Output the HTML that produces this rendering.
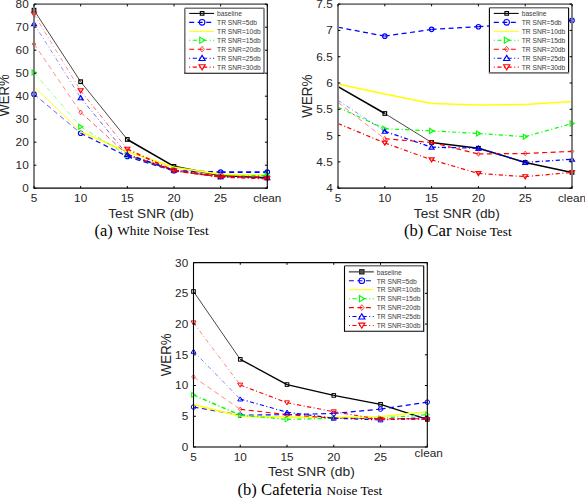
<!DOCTYPE html>
<html><head><meta charset="utf-8"><style>
html,body{margin:0;padding:0;background:#fff;overflow:hidden;}
svg{display:block;}
.tk{font-family:"Liberation Sans",sans-serif;font-size:11.0px;fill:#262626;}
.al{font-family:"Liberation Sans",sans-serif;font-size:13.2px;fill:#262626;}
.lg{font-family:"Liberation Sans",sans-serif;font-size:7.7px;fill:#3a3a3a;}
.cp{font-family:"Liberation Serif",serif;fill:#000;}
</style></head><body>
<svg width="585" height="498" viewBox="0 0 585 498">
<path d="M34.00 10.18L80.66 81.71" fill="none" stroke="#000" stroke-width="0.9" opacity="0.8"/>
<path d="M80.66 81.71L127.32 139.44" fill="none" stroke="#000" stroke-width="0.9" opacity="0.8"/>
<path d="M127.32 139.44L173.98 166.35" fill="none" stroke="#000" stroke-width="1.6" opacity="1"/>
<path d="M173.98 166.35L220.64 175.55" fill="none" stroke="#000" stroke-width="1.6" opacity="1"/>
<path d="M220.64 175.55L267.30 177.85" fill="none" stroke="#000" stroke-width="1.6" opacity="1"/>
<rect x="32.20" y="8.38" width="3.60" height="3.60" fill="none" stroke="#000" stroke-width="1.15"/>
<rect x="78.86" y="79.91" width="3.60" height="3.60" fill="none" stroke="#000" stroke-width="1.15"/>
<rect x="125.52" y="137.64" width="3.60" height="3.60" fill="none" stroke="#000" stroke-width="1.15"/>
<rect x="172.18" y="164.55" width="3.60" height="3.60" fill="none" stroke="#000" stroke-width="1.15"/>
<rect x="218.84" y="173.75" width="3.60" height="3.60" fill="none" stroke="#000" stroke-width="1.15"/>
<rect x="265.50" y="176.05" width="3.60" height="3.60" fill="none" stroke="#000" stroke-width="1.15"/>
<path d="M34.00 94.13L80.66 133.23" fill="none" stroke="#00f" stroke-width="0.9" opacity="0.7" stroke-dasharray="5 3.5"/>
<path d="M80.66 133.23L127.32 156.46" fill="none" stroke="#00f" stroke-width="1.3" opacity="0.9" stroke-dasharray="5 3.5"/>
<path d="M127.32 156.46L173.98 170.72" fill="none" stroke="#00f" stroke-width="1.6" opacity="1" stroke-dasharray="5 3.5"/>
<path d="M173.98 170.72L220.64 172.10" fill="none" stroke="#00f" stroke-width="1.6" opacity="1" stroke-dasharray="5 3.5"/>
<path d="M220.64 172.10L267.30 172.10" fill="none" stroke="#00f" stroke-width="1.6" opacity="1" stroke-dasharray="5 3.5"/>
<circle cx="34.00" cy="94.13" r="2.25" fill="none" stroke="#00f" stroke-width="1.15"/>
<circle cx="80.66" cy="133.23" r="2.25" fill="none" stroke="#00f" stroke-width="1.15"/>
<circle cx="127.32" cy="156.46" r="2.25" fill="none" stroke="#00f" stroke-width="1.15"/>
<circle cx="173.98" cy="170.72" r="2.25" fill="none" stroke="#00f" stroke-width="1.15"/>
<circle cx="220.64" cy="172.10" r="2.25" fill="none" stroke="#00f" stroke-width="1.15"/>
<circle cx="267.30" cy="172.10" r="2.25" fill="none" stroke="#00f" stroke-width="1.15"/>
<path d="M34.00 86.54L80.66 131.62" fill="none" stroke="#ff0" stroke-width="1.0" opacity="0.85"/>
<path d="M80.66 131.62L127.32 151.86" fill="none" stroke="#ff0" stroke-width="1.6" opacity="1"/>
<path d="M127.32 151.86L173.98 167.27" fill="none" stroke="#ff0" stroke-width="1.6" opacity="1"/>
<path d="M173.98 167.27L220.64 174.40" fill="none" stroke="#ff0" stroke-width="1.6" opacity="1"/>
<path d="M220.64 174.40L267.30 175.32" fill="none" stroke="#ff0" stroke-width="1.6" opacity="1"/>






<path d="M34.00 72.51L80.66 126.79" fill="none" stroke="#0f0" stroke-width="0.8" opacity="0.55" stroke-dasharray="4.2 2.5 1 2.5"/>
<path d="M80.66 126.79L127.32 155.31" fill="none" stroke="#0f0" stroke-width="0.9" opacity="0.7" stroke-dasharray="4.2 2.5 1 2.5"/>
<path d="M127.32 155.31L173.98 170.26" fill="none" stroke="#0f0" stroke-width="1.6" opacity="1" stroke-dasharray="4.2 2.5 1 2.5"/>
<path d="M173.98 170.26L220.64 176.70" fill="none" stroke="#0f0" stroke-width="1.6" opacity="1" stroke-dasharray="4.2 2.5 1 2.5"/>
<path d="M220.64 176.70L267.30 175.55" fill="none" stroke="#0f0" stroke-width="1.6" opacity="1" stroke-dasharray="4.2 2.5 1 2.5"/>
<path d="M36.20 72.51L32.10 70.01L32.10 75.01Z" fill="none" stroke="#0f0" stroke-width="1.15"/>
<path d="M82.86 126.79L78.76 124.29L78.76 129.29Z" fill="none" stroke="#0f0" stroke-width="1.15"/>
<path d="M129.52 155.31L125.42 152.81L125.42 157.81Z" fill="none" stroke="#0f0" stroke-width="1.15"/>
<path d="M176.18 170.26L172.08 167.76L172.08 172.76Z" fill="none" stroke="#0f0" stroke-width="1.15"/>
<path d="M222.84 176.70L218.74 174.20L218.74 179.20Z" fill="none" stroke="#0f0" stroke-width="1.15"/>
<path d="M269.50 175.55L265.40 173.05L265.40 178.05Z" fill="none" stroke="#0f0" stroke-width="1.15"/>
<path d="M34.00 43.99L80.66 112.30" fill="none" stroke="#f00" stroke-width="0.8" opacity="0.55" stroke-dasharray="5 3.5"/>
<path d="M80.66 112.30L127.32 154.62" fill="none" stroke="#f00" stroke-width="0.9" opacity="0.7" stroke-dasharray="5 3.5"/>
<path d="M127.32 154.62L173.98 170.72" fill="none" stroke="#f00" stroke-width="1.6" opacity="1" stroke-dasharray="5 3.5"/>
<path d="M173.98 170.72L220.64 176.70" fill="none" stroke="#f00" stroke-width="1.6" opacity="1" stroke-dasharray="5 3.5"/>
<path d="M220.64 176.70L267.30 177.16" fill="none" stroke="#f00" stroke-width="1.6" opacity="1" stroke-dasharray="5 3.5"/>
<path d="M34.00 41.69L35.80 43.99L34.00 46.29L32.20 43.99Z" fill="none" stroke="#f00" stroke-width="0.9774999999999999" opacity="0.75"/>
<path d="M80.66 110.00L82.46 112.30L80.66 114.60L78.86 112.30Z" fill="none" stroke="#f00" stroke-width="0.9774999999999999" opacity="0.75"/>
<path d="M127.32 152.32L129.12 154.62L127.32 156.92L125.52 154.62Z" fill="none" stroke="#f00" stroke-width="0.9774999999999999" opacity="0.75"/>
<path d="M173.98 168.42L175.78 170.72L173.98 173.02L172.18 170.72Z" fill="none" stroke="#f00" stroke-width="0.9774999999999999" opacity="0.75"/>
<path d="M220.64 174.40L222.44 176.70L220.64 179.00L218.84 176.70Z" fill="none" stroke="#f00" stroke-width="0.9774999999999999" opacity="0.75"/>
<path d="M267.30 174.86L269.10 177.16L267.30 179.46L265.50 177.16Z" fill="none" stroke="#f00" stroke-width="0.9774999999999999" opacity="0.75"/>
<path d="M34.00 23.75L80.66 97.81" fill="none" stroke="#00f" stroke-width="0.8" opacity="0.55" stroke-dasharray="4.2 2.5 1 2.5"/>
<path d="M80.66 97.81L127.32 154.62" fill="none" stroke="#00f" stroke-width="0.9" opacity="0.7" stroke-dasharray="4.2 2.5 1 2.5"/>
<path d="M127.32 154.62L173.98 170.26" fill="none" stroke="#00f" stroke-width="1.6" opacity="1" stroke-dasharray="4.2 2.5 1 2.5"/>
<path d="M173.98 170.26L220.64 176.70" fill="none" stroke="#00f" stroke-width="1.6" opacity="1" stroke-dasharray="4.2 2.5 1 2.5"/>
<path d="M220.64 176.70L267.30 177.85" fill="none" stroke="#00f" stroke-width="1.6" opacity="1" stroke-dasharray="4.2 2.5 1 2.5"/>
<path d="M34.00 21.55L36.50 25.65L31.50 25.65Z" fill="none" stroke="#00f" stroke-width="1.15"/>
<path d="M80.66 95.61L83.16 99.71L78.16 99.71Z" fill="none" stroke="#00f" stroke-width="1.15"/>
<path d="M127.32 152.42L129.82 156.52L124.82 156.52Z" fill="none" stroke="#00f" stroke-width="1.15"/>
<path d="M173.98 168.06L176.48 172.16L171.48 172.16Z" fill="none" stroke="#00f" stroke-width="1.15"/>
<path d="M220.64 174.50L223.14 178.60L218.14 178.60Z" fill="none" stroke="#00f" stroke-width="1.15"/>
<path d="M267.30 175.65L269.80 179.75L264.80 179.75Z" fill="none" stroke="#00f" stroke-width="1.15"/>
<path d="M34.00 14.32L80.66 90.68" fill="none" stroke="#f00" stroke-width="0.8" opacity="0.55" stroke-dasharray="4.2 2.5 1 2.5"/>
<path d="M80.66 90.68L127.32 149.10" fill="none" stroke="#f00" stroke-width="0.9" opacity="0.7" stroke-dasharray="4.2 2.5 1 2.5"/>
<path d="M127.32 149.10L173.98 170.72" fill="none" stroke="#f00" stroke-width="1.6" opacity="1" stroke-dasharray="4.2 2.5 1 2.5"/>
<path d="M173.98 170.72L220.64 176.93" fill="none" stroke="#f00" stroke-width="1.6" opacity="1" stroke-dasharray="4.2 2.5 1 2.5"/>
<path d="M220.64 176.93L267.30 178.77" fill="none" stroke="#f00" stroke-width="1.6" opacity="1" stroke-dasharray="4.2 2.5 1 2.5"/>
<path d="M34.00 16.52L36.50 12.42L31.50 12.42Z" fill="none" stroke="#f00" stroke-width="1.15"/>
<path d="M80.66 92.88L83.16 88.78L78.16 88.78Z" fill="none" stroke="#f00" stroke-width="1.15"/>
<path d="M127.32 151.30L129.82 147.20L124.82 147.20Z" fill="none" stroke="#f00" stroke-width="1.15"/>
<path d="M173.98 172.92L176.48 168.82L171.48 168.82Z" fill="none" stroke="#f00" stroke-width="1.15"/>
<path d="M220.64 179.13L223.14 175.03L218.14 175.03Z" fill="none" stroke="#f00" stroke-width="1.15"/>
<path d="M267.30 180.97L269.80 176.87L264.80 176.87Z" fill="none" stroke="#f00" stroke-width="1.15"/>
<path d="M34 4.2V188.2" stroke="#7a7a7a" stroke-width="1.9"/>
<path d="M34 4.2H267.3" stroke="#777" stroke-width="1.7"/>
<path d="M267.3 4.2V188.2" stroke="#000" stroke-width="1.1"/>
<path d="M33.5 188.2H267.8" stroke="#000" stroke-width="1.2"/>
<path d="M34.00 188.2v-2.2M34.00 4.2v2.2" stroke="#000" stroke-width="1"/>
<text x="30.73" y="201.80" class="tk" textLength="6.55" lengthAdjust="spacingAndGlyphs">5</text>
<path d="M80.66 188.2v-2.2M80.66 4.2v2.2" stroke="#000" stroke-width="1"/>
<text x="74.11" y="201.80" class="tk" textLength="13.09" lengthAdjust="spacingAndGlyphs">10</text>
<path d="M127.32 188.2v-2.2M127.32 4.2v2.2" stroke="#000" stroke-width="1"/>
<text x="120.77" y="201.80" class="tk" textLength="13.09" lengthAdjust="spacingAndGlyphs">15</text>
<path d="M173.98 188.2v-2.2M173.98 4.2v2.2" stroke="#000" stroke-width="1"/>
<text x="167.43" y="201.80" class="tk" textLength="13.09" lengthAdjust="spacingAndGlyphs">20</text>
<path d="M220.64 188.2v-2.2M220.64 4.2v2.2" stroke="#000" stroke-width="1"/>
<text x="214.09" y="201.80" class="tk" textLength="13.09" lengthAdjust="spacingAndGlyphs">25</text>
<path d="M267.30 188.2v-2.2M267.30 4.2v2.2" stroke="#000" stroke-width="1"/>
<text x="253.23" y="201.80" class="tk" textLength="28.14" lengthAdjust="spacingAndGlyphs">clean</text>
<path d="M34 188.20h2.4M267.3 188.20h-2.4" stroke="#000" stroke-width="1"/>
<text x="22.15" y="192.15" class="tk" textLength="6.55" lengthAdjust="spacingAndGlyphs">0</text>
<path d="M34 165.20h2.4M267.3 165.20h-2.4" stroke="#000" stroke-width="1"/>
<text x="15.61" y="169.15" class="tk" textLength="13.09" lengthAdjust="spacingAndGlyphs">10</text>
<path d="M34 142.20h2.4M267.3 142.20h-2.4" stroke="#000" stroke-width="1"/>
<text x="15.61" y="146.15" class="tk" textLength="13.09" lengthAdjust="spacingAndGlyphs">20</text>
<path d="M34 119.20h2.4M267.3 119.20h-2.4" stroke="#000" stroke-width="1"/>
<text x="15.61" y="123.15" class="tk" textLength="13.09" lengthAdjust="spacingAndGlyphs">30</text>
<path d="M34 96.20h2.4M267.3 96.20h-2.4" stroke="#000" stroke-width="1"/>
<text x="15.61" y="100.15" class="tk" textLength="13.09" lengthAdjust="spacingAndGlyphs">40</text>
<path d="M34 73.20h2.4M267.3 73.20h-2.4" stroke="#000" stroke-width="1"/>
<text x="15.61" y="77.15" class="tk" textLength="13.09" lengthAdjust="spacingAndGlyphs">50</text>
<path d="M34 50.20h2.4M267.3 50.20h-2.4" stroke="#000" stroke-width="1"/>
<text x="15.61" y="54.15" class="tk" textLength="13.09" lengthAdjust="spacingAndGlyphs">60</text>
<path d="M34 27.20h2.4M267.3 27.20h-2.4" stroke="#000" stroke-width="1"/>
<text x="15.61" y="31.15" class="tk" textLength="13.09" lengthAdjust="spacingAndGlyphs">70</text>
<path d="M34 4.20h2.4M267.3 4.20h-2.4" stroke="#000" stroke-width="1"/>
<text x="15.61" y="8.15" class="tk" textLength="13.09" lengthAdjust="spacingAndGlyphs">80</text>
<text x="108.3" y="218.1" class="al" textLength="85.6" lengthAdjust="spacingAndGlyphs">Test SNR (db)</text>
<text transform="translate(9.4,95.49999999999999) rotate(-90)" x="-21.00" y="0" class="al" style="font-size:14px" textLength="42" lengthAdjust="spacingAndGlyphs">WER%</text>
<rect x="184.8" y="8.2" width="79.20" height="65.00" fill="#fff" stroke="none"/>
<path d="M184.8 8.2V73.2" stroke="#777" stroke-width="1.6"/>
<path d="M184.8 8.2H264" stroke="#777" stroke-width="1.6"/>
<path d="M264 8.2V73.2" stroke="#777" stroke-width="1.6"/>
<path d="M184.3 73.2H264.5" stroke="#000" stroke-width="1.1"/>
<path d="M189.20 13.40H214.10" stroke="#000" stroke-width="1.05"/>
<rect x="200.30" y="11.60" width="3.60" height="3.60" fill="none" stroke="#000" stroke-width="1.1"/>
<text x="217.10" y="16.15" class="lg" textLength="24.86" lengthAdjust="spacingAndGlyphs">baseline</text>
<path d="M189.20 22.35H214.10" stroke="#00f" stroke-width="1.05" stroke-dasharray="5 3.5"/>
<circle cx="202.10" cy="22.35" r="2.81" fill="none" stroke="#00f" stroke-width="1.1"/>
<text x="217.10" y="25.10" class="lg" textLength="39.87" lengthAdjust="spacingAndGlyphs">TR SNR=5db</text>
<path d="M189.20 31.30H214.10" stroke="#ff0" stroke-width="1.05"/>

<text x="217.10" y="34.05" class="lg" textLength="43.59" lengthAdjust="spacingAndGlyphs">TR SNR=10db</text>
<path d="M189.20 40.25H214.10" stroke="#0f0" stroke-width="1.05" stroke-dasharray="4.2 2.5 1 2.5" stroke-dashoffset="6.7"/>
<path d="M204.85 40.25L199.73 37.12L199.73 43.38Z" fill="none" stroke="#0f0" stroke-width="1.1"/>
<text x="217.10" y="43.00" class="lg" textLength="43.59" lengthAdjust="spacingAndGlyphs">TR SNR=15db</text>
<path d="M189.20 49.20H214.10" stroke="#f00" stroke-width="1.05" stroke-dasharray="5 3.5"/>
<path d="M202.10 46.32L204.35 49.20L202.10 52.07L199.85 49.20Z" fill="none" stroke="#f00" stroke-width="0.935" opacity="0.75"/>
<text x="217.10" y="51.95" class="lg" textLength="43.59" lengthAdjust="spacingAndGlyphs">TR SNR=20db</text>
<path d="M189.20 58.15H214.10" stroke="#00f" stroke-width="1.05" stroke-dasharray="4.2 2.5 1 2.5" stroke-dashoffset="6.7"/>
<path d="M202.10 55.40L205.23 60.52L198.98 60.52Z" fill="none" stroke="#00f" stroke-width="1.1"/>
<text x="217.10" y="60.90" class="lg" textLength="43.59" lengthAdjust="spacingAndGlyphs">TR SNR=25db</text>
<path d="M189.20 67.10H214.10" stroke="#f00" stroke-width="1.05" stroke-dasharray="4.2 2.5 1 2.5" stroke-dashoffset="6.7"/>
<path d="M202.10 69.85L205.23 64.72L198.98 64.72Z" fill="none" stroke="#f00" stroke-width="1.1"/>
<text x="217.10" y="69.85" class="lg" textLength="43.59" lengthAdjust="spacingAndGlyphs">TR SNR=30db</text>
<path d="M338.00 86.68L384.80 113.51" fill="none" stroke="#000" stroke-width="1.5" opacity="1"/>
<path d="M384.80 113.51L431.60 142.44" fill="none" stroke="#000" stroke-width="0.9" opacity="0.8"/>
<path d="M431.60 142.44L478.40 148.22" fill="none" stroke="#000" stroke-width="1.5" opacity="1"/>
<path d="M478.40 148.22L525.20 162.43" fill="none" stroke="#000" stroke-width="1.5" opacity="1"/>
<path d="M525.20 162.43L572.00 172.42" fill="none" stroke="#000" stroke-width="1.5" opacity="1"/>
<rect x="383.00" y="111.71" width="3.60" height="3.60" fill="none" stroke="#000" stroke-width="1.15"/>
<rect x="429.80" y="140.64" width="3.60" height="3.60" fill="none" stroke="#000" stroke-width="1.15"/>
<rect x="476.60" y="146.42" width="3.60" height="3.60" fill="none" stroke="#000" stroke-width="1.15"/>
<rect x="523.40" y="160.63" width="3.60" height="3.60" fill="none" stroke="#000" stroke-width="1.15"/>
<rect x="570.20" y="170.62" width="3.60" height="3.60" fill="none" stroke="#000" stroke-width="1.15"/>
<path d="M338.00 27.24L384.80 36.19" fill="none" stroke="#00f" stroke-width="1.25" opacity="1" stroke-dasharray="5 3.5"/>
<path d="M384.80 36.19L431.60 29.35" fill="none" stroke="#00f" stroke-width="1.25" opacity="1" stroke-dasharray="5 3.5"/>
<path d="M431.60 29.35L478.40 26.72" fill="none" stroke="#00f" stroke-width="1.25" opacity="1" stroke-dasharray="5 3.5"/>
<path d="M478.40 26.72L525.20 24.09" fill="none" stroke="#00f" stroke-width="1.25" opacity="1" stroke-dasharray="5 3.5"/>
<path d="M525.20 24.09L572.00 20.41" fill="none" stroke="#00f" stroke-width="1.25" opacity="1" stroke-dasharray="5 3.5"/>
<circle cx="384.80" cy="36.19" r="2.25" fill="none" stroke="#00f" stroke-width="1.15"/>
<circle cx="431.60" cy="29.35" r="2.25" fill="none" stroke="#00f" stroke-width="1.15"/>
<circle cx="478.40" cy="26.72" r="2.25" fill="none" stroke="#00f" stroke-width="1.15"/>
<circle cx="525.20" cy="24.09" r="2.25" fill="none" stroke="#00f" stroke-width="1.15"/>
<circle cx="572.00" cy="20.41" r="2.25" fill="none" stroke="#00f" stroke-width="1.15"/>
<path d="M338.00 84.05L384.80 94.05" fill="none" stroke="#ff0" stroke-width="1.5" opacity="1"/>
<path d="M384.80 94.05L431.60 103.51" fill="none" stroke="#ff0" stroke-width="1.5" opacity="1"/>
<path d="M431.60 103.51L478.40 105.09" fill="none" stroke="#ff0" stroke-width="1.5" opacity="1"/>
<path d="M478.40 105.09L525.20 104.57" fill="none" stroke="#ff0" stroke-width="1.5" opacity="1"/>
<path d="M525.20 104.57L572.00 101.41" fill="none" stroke="#ff0" stroke-width="1.5" opacity="1"/>





<path d="M338.00 107.20L384.80 128.76" fill="none" stroke="#0f0" stroke-width="1.25" opacity="1" stroke-dasharray="4.2 2.5 1 2.5"/>
<path d="M384.80 128.76L431.60 130.87" fill="none" stroke="#0f0" stroke-width="1.15" opacity="1" stroke-dasharray="4.2 2.5 1 2.5"/>
<path d="M431.60 130.87L478.40 133.50" fill="none" stroke="#0f0" stroke-width="1.2" opacity="1" stroke-dasharray="4.2 2.5 1 2.5"/>
<path d="M478.40 133.50L525.20 136.65" fill="none" stroke="#0f0" stroke-width="1.2" opacity="1" stroke-dasharray="4.2 2.5 1 2.5"/>
<path d="M525.20 136.65L572.00 123.50" fill="none" stroke="#0f0" stroke-width="1.2" opacity="1" stroke-dasharray="4.2 2.5 1 2.5"/>
<path d="M387.00 128.76L382.90 126.26L382.90 131.26Z" fill="none" stroke="#0f0" stroke-width="1.15"/>
<path d="M433.80 130.87L429.70 128.37L429.70 133.37Z" fill="none" stroke="#0f0" stroke-width="1.15"/>
<path d="M480.60 133.50L476.50 131.00L476.50 136.00Z" fill="none" stroke="#0f0" stroke-width="1.15"/>
<path d="M527.40 136.65L523.30 134.15L523.30 139.15Z" fill="none" stroke="#0f0" stroke-width="1.15"/>
<path d="M574.20 123.50L570.10 121.00L570.10 126.00Z" fill="none" stroke="#0f0" stroke-width="1.15"/>
<path d="M338.00 102.46L384.80 138.76" fill="none" stroke="#f00" stroke-width="0.8" opacity="0.6" stroke-dasharray="5 3.5"/>
<path d="M384.80 138.76L431.60 142.44" fill="none" stroke="#f00" stroke-width="1.2" opacity="1" stroke-dasharray="5 3.5"/>
<path d="M431.60 142.44L478.40 154.01" fill="none" stroke="#f00" stroke-width="1.2" opacity="1" stroke-dasharray="5 3.5"/>
<path d="M478.40 154.01L525.20 153.48" fill="none" stroke="#f00" stroke-width="1.2" opacity="1" stroke-dasharray="5 3.5"/>
<path d="M525.20 153.48L572.00 151.38" fill="none" stroke="#f00" stroke-width="1.2" opacity="1" stroke-dasharray="5 3.5"/>
<path d="M384.80 136.46L386.60 138.76L384.80 141.06L383.00 138.76Z" fill="none" stroke="#f00" stroke-width="0.9774999999999999" opacity="0.75"/>
<path d="M431.60 140.14L433.40 142.44L431.60 144.74L429.80 142.44Z" fill="none" stroke="#f00" stroke-width="0.9774999999999999" opacity="0.75"/>
<path d="M478.40 151.71L480.20 154.01L478.40 156.31L476.60 154.01Z" fill="none" stroke="#f00" stroke-width="0.9774999999999999" opacity="0.75"/>
<path d="M525.20 151.18L527.00 153.48L525.20 155.78L523.40 153.48Z" fill="none" stroke="#f00" stroke-width="0.9774999999999999" opacity="0.75"/>
<path d="M572.00 149.08L573.80 151.38L572.00 153.68L570.20 151.38Z" fill="none" stroke="#f00" stroke-width="0.9774999999999999" opacity="0.75"/>
<path d="M338.00 100.36L384.80 131.39" fill="none" stroke="#00f" stroke-width="0.8" opacity="0.6" stroke-dasharray="4.2 2.5 1 2.5"/>
<path d="M384.80 131.39L431.60 147.17" fill="none" stroke="#00f" stroke-width="1.3" opacity="1" stroke-dasharray="4.2 2.5 1 2.5"/>
<path d="M431.60 147.17L478.40 148.22" fill="none" stroke="#00f" stroke-width="1.3" opacity="1" stroke-dasharray="4.2 2.5 1 2.5"/>
<path d="M478.40 148.22L525.20 162.43" fill="none" stroke="#00f" stroke-width="1.3" opacity="1" stroke-dasharray="4.2 2.5 1 2.5"/>
<path d="M525.20 162.43L572.00 159.27" fill="none" stroke="#00f" stroke-width="1.3" opacity="1" stroke-dasharray="4.2 2.5 1 2.5"/>
<path d="M384.80 129.19L387.30 133.29L382.30 133.29Z" fill="none" stroke="#00f" stroke-width="1.15"/>
<path d="M431.60 144.97L434.10 149.07L429.10 149.07Z" fill="none" stroke="#00f" stroke-width="1.15"/>
<path d="M478.40 146.02L480.90 150.12L475.90 150.12Z" fill="none" stroke="#00f" stroke-width="1.15"/>
<path d="M525.20 160.23L527.70 164.33L522.70 164.33Z" fill="none" stroke="#00f" stroke-width="1.15"/>
<path d="M572.00 157.07L574.50 161.17L569.50 161.17Z" fill="none" stroke="#00f" stroke-width="1.15"/>
<path d="M338.00 123.50L384.80 142.96" fill="none" stroke="#f00" stroke-width="1.25" opacity="1" stroke-dasharray="4.2 2.5 1 2.5"/>
<path d="M384.80 142.96L431.60 159.80" fill="none" stroke="#f00" stroke-width="1.15" opacity="1" stroke-dasharray="4.2 2.5 1 2.5"/>
<path d="M431.60 159.80L478.40 173.47" fill="none" stroke="#f00" stroke-width="1.2" opacity="1" stroke-dasharray="4.2 2.5 1 2.5"/>
<path d="M478.40 173.47L525.20 176.63" fill="none" stroke="#f00" stroke-width="1.2" opacity="1" stroke-dasharray="4.2 2.5 1 2.5"/>
<path d="M525.20 176.63L572.00 172.42" fill="none" stroke="#f00" stroke-width="1.2" opacity="1" stroke-dasharray="4.2 2.5 1 2.5"/>
<path d="M384.80 145.16L387.30 141.06L382.30 141.06Z" fill="none" stroke="#f00" stroke-width="1.15"/>
<path d="M431.60 162.00L434.10 157.90L429.10 157.90Z" fill="none" stroke="#f00" stroke-width="1.15"/>
<path d="M478.40 175.67L480.90 171.57L475.90 171.57Z" fill="none" stroke="#f00" stroke-width="1.15"/>
<path d="M525.20 178.83L527.70 174.73L522.70 174.73Z" fill="none" stroke="#f00" stroke-width="1.15"/>
<path d="M572.00 174.62L574.50 170.52L569.50 170.52Z" fill="none" stroke="#f00" stroke-width="1.15"/>
<path d="M338 4.1V188.2" stroke="#7a7a7a" stroke-width="1.9"/>
<path d="M338 4.1H572" stroke="#777" stroke-width="1.7"/>
<path d="M572 4.1V188.2" stroke="#7a7a7a" stroke-width="1.9"/>
<path d="M337.5 188.2H572.5" stroke="#000" stroke-width="1.2"/>
<path d="M338.00 188.2v-2.2M338.00 4.1v2.2" stroke="#000" stroke-width="1"/>
<text x="334.73" y="201.80" class="tk" textLength="6.55" lengthAdjust="spacingAndGlyphs">5</text>
<path d="M384.80 188.2v-2.2M384.80 4.1v2.2" stroke="#000" stroke-width="1"/>
<text x="378.25" y="201.80" class="tk" textLength="13.09" lengthAdjust="spacingAndGlyphs">10</text>
<path d="M431.60 188.2v-2.2M431.60 4.1v2.2" stroke="#000" stroke-width="1"/>
<text x="425.05" y="201.80" class="tk" textLength="13.09" lengthAdjust="spacingAndGlyphs">15</text>
<path d="M478.40 188.2v-2.2M478.40 4.1v2.2" stroke="#000" stroke-width="1"/>
<text x="471.85" y="201.80" class="tk" textLength="13.09" lengthAdjust="spacingAndGlyphs">20</text>
<path d="M525.20 188.2v-2.2M525.20 4.1v2.2" stroke="#000" stroke-width="1"/>
<text x="518.65" y="201.80" class="tk" textLength="13.09" lengthAdjust="spacingAndGlyphs">25</text>
<path d="M572.00 188.2v-2.2M572.00 4.1v2.2" stroke="#000" stroke-width="1"/>
<text x="557.93" y="201.80" class="tk" textLength="28.14" lengthAdjust="spacingAndGlyphs">clean</text>
<path d="M338 188.20h2.4M572 188.20h-2.4" stroke="#000" stroke-width="1"/>
<text x="326.15" y="192.15" class="tk" textLength="6.55" lengthAdjust="spacingAndGlyphs">4</text>
<path d="M338 161.90h2.4M572 161.90h-2.4" stroke="#000" stroke-width="1"/>
<text x="316.34" y="165.85" class="tk" textLength="16.36" lengthAdjust="spacingAndGlyphs">4.5</text>
<path d="M338 135.60h2.4M572 135.60h-2.4" stroke="#000" stroke-width="1"/>
<text x="326.15" y="139.55" class="tk" textLength="6.55" lengthAdjust="spacingAndGlyphs">5</text>
<path d="M338 109.30h2.4M572 109.30h-2.4" stroke="#000" stroke-width="1"/>
<text x="316.34" y="113.25" class="tk" textLength="16.36" lengthAdjust="spacingAndGlyphs">5.5</text>
<path d="M338 83.00h2.4M572 83.00h-2.4" stroke="#000" stroke-width="1"/>
<text x="326.15" y="86.95" class="tk" textLength="6.55" lengthAdjust="spacingAndGlyphs">6</text>
<path d="M338 56.70h2.4M572 56.70h-2.4" stroke="#000" stroke-width="1"/>
<text x="316.34" y="60.65" class="tk" textLength="16.36" lengthAdjust="spacingAndGlyphs">6.5</text>
<path d="M338 30.40h2.4M572 30.40h-2.4" stroke="#000" stroke-width="1"/>
<text x="326.15" y="34.35" class="tk" textLength="6.55" lengthAdjust="spacingAndGlyphs">7</text>
<path d="M338 4.10h2.4M572 4.10h-2.4" stroke="#000" stroke-width="1"/>
<text x="316.34" y="8.05" class="tk" textLength="16.36" lengthAdjust="spacingAndGlyphs">7.5</text>
<text x="413.8" y="218.0" class="al" textLength="86.0" lengthAdjust="spacingAndGlyphs">Test SNR (db)</text>
<text transform="translate(311.7,96.14999999999999) rotate(-90)" x="-21.50" y="0" class="al" style="font-size:14px" textLength="43" lengthAdjust="spacingAndGlyphs">WER%</text>
<rect x="489.4" y="7.7" width="79.20" height="65.20" fill="#fff" stroke="none"/>
<path d="M489.4 7.7V72.9" stroke="#000" stroke-width="1.1"/>
<path d="M489.4 7.7H568.6" stroke="#777" stroke-width="1.6"/>
<path d="M568.6 7.7V72.9" stroke="#000" stroke-width="1.1"/>
<path d="M488.9 72.9H569.1" stroke="#777" stroke-width="1.6"/>
<path d="M493.80 13.40H518.70" stroke="#000" stroke-width="1.05"/>
<rect x="504.90" y="11.60" width="3.60" height="3.60" fill="none" stroke="#000" stroke-width="1.1"/>
<text x="521.70" y="16.15" class="lg" textLength="24.86" lengthAdjust="spacingAndGlyphs">baseline</text>
<path d="M493.80 22.35H518.70" stroke="#00f" stroke-width="1.05" stroke-dasharray="5 3.5"/>
<circle cx="506.70" cy="22.35" r="2.81" fill="none" stroke="#00f" stroke-width="1.1"/>
<text x="521.70" y="25.10" class="lg" textLength="39.87" lengthAdjust="spacingAndGlyphs">TR SNR=5db</text>
<path d="M493.80 31.30H518.70" stroke="#ff0" stroke-width="1.05"/>

<text x="521.70" y="34.05" class="lg" textLength="43.59" lengthAdjust="spacingAndGlyphs">TR SNR=10db</text>
<path d="M493.80 40.25H518.70" stroke="#0f0" stroke-width="1.05" stroke-dasharray="4.2 2.5 1 2.5" stroke-dashoffset="6.7"/>
<path d="M509.45 40.25L504.32 37.12L504.32 43.38Z" fill="none" stroke="#0f0" stroke-width="1.1"/>
<text x="521.70" y="43.00" class="lg" textLength="43.59" lengthAdjust="spacingAndGlyphs">TR SNR=15db</text>
<path d="M493.80 49.20H518.70" stroke="#f00" stroke-width="1.05" stroke-dasharray="5 3.5"/>
<path d="M506.70 46.32L508.95 49.20L506.70 52.07L504.45 49.20Z" fill="none" stroke="#f00" stroke-width="0.935" opacity="0.75"/>
<text x="521.70" y="51.95" class="lg" textLength="43.59" lengthAdjust="spacingAndGlyphs">TR SNR=20db</text>
<path d="M493.80 58.15H518.70" stroke="#00f" stroke-width="1.05" stroke-dasharray="4.2 2.5 1 2.5" stroke-dashoffset="6.7"/>
<path d="M506.70 55.40L509.82 60.52L503.57 60.52Z" fill="none" stroke="#00f" stroke-width="1.1"/>
<text x="521.70" y="60.90" class="lg" textLength="43.59" lengthAdjust="spacingAndGlyphs">TR SNR=25db</text>
<path d="M493.80 67.10H518.70" stroke="#f00" stroke-width="1.05" stroke-dasharray="4.2 2.5 1 2.5" stroke-dashoffset="6.7"/>
<path d="M506.70 69.85L509.82 64.72L503.57 64.72Z" fill="none" stroke="#f00" stroke-width="1.1"/>
<text x="521.70" y="69.85" class="lg" textLength="43.59" lengthAdjust="spacingAndGlyphs">TR SNR=30db</text>
<path d="M193.50 291.49L240.26 359.35" fill="none" stroke="#000" stroke-width="0.9" opacity="0.8"/>
<path d="M240.26 359.35L287.02 384.55" fill="none" stroke="#000" stroke-width="1.35" opacity="1"/>
<path d="M287.02 384.55L333.78 395.43" fill="none" stroke="#000" stroke-width="1.3" opacity="1"/>
<path d="M333.78 395.43L380.54 404.34" fill="none" stroke="#000" stroke-width="1.3" opacity="1"/>
<path d="M380.54 404.34L427.30 419.40" fill="none" stroke="#000" stroke-width="1.3" opacity="1"/>
<rect x="191.70" y="289.69" width="3.60" height="3.60" fill="none" stroke="#000" stroke-width="1.0"/>
<rect x="238.46" y="357.55" width="3.60" height="3.60" fill="none" stroke="#000" stroke-width="1.0"/>
<rect x="285.22" y="382.75" width="3.60" height="3.60" fill="none" stroke="#000" stroke-width="1.0"/>
<rect x="331.98" y="393.63" width="3.60" height="3.60" fill="none" stroke="#000" stroke-width="1.0"/>
<rect x="378.74" y="402.54" width="3.60" height="3.60" fill="none" stroke="#000" stroke-width="1.0"/>
<rect x="425.50" y="417.60" width="3.60" height="3.60" fill="none" stroke="#000" stroke-width="1.0"/>
<path d="M193.50 407.05L240.26 415.16" fill="none" stroke="#00f" stroke-width="1.2" opacity="0.9" stroke-dasharray="5 3.5"/>
<path d="M240.26 415.16L287.02 414.61" fill="none" stroke="#00f" stroke-width="1.15" opacity="1" stroke-dasharray="5 3.5"/>
<path d="M287.02 414.61L333.78 413.44" fill="none" stroke="#00f" stroke-width="1.15" opacity="1" stroke-dasharray="5 3.5"/>
<path d="M333.78 413.44L380.54 409.14" fill="none" stroke="#00f" stroke-width="1.15" opacity="1" stroke-dasharray="5 3.5"/>
<path d="M380.54 409.14L427.30 402.13" fill="none" stroke="#00f" stroke-width="1.15" opacity="1" stroke-dasharray="5 3.5"/>
<circle cx="193.50" cy="407.05" r="2.25" fill="none" stroke="#00f" stroke-width="1.0"/>
<circle cx="240.26" cy="415.16" r="2.25" fill="none" stroke="#00f" stroke-width="1.0"/>
<circle cx="287.02" cy="414.61" r="2.25" fill="none" stroke="#00f" stroke-width="1.0"/>
<circle cx="333.78" cy="413.44" r="2.25" fill="none" stroke="#00f" stroke-width="1.0"/>
<circle cx="380.54" cy="409.14" r="2.25" fill="none" stroke="#00f" stroke-width="1.0"/>
<circle cx="427.30" cy="402.13" r="2.25" fill="none" stroke="#00f" stroke-width="1.0"/>
<path d="M193.50 404.59L240.26 416.27" fill="none" stroke="#ff0" stroke-width="1.5" opacity="1"/>
<path d="M240.26 416.27L287.02 417.00" fill="none" stroke="#ff0" stroke-width="1.3" opacity="1"/>
<path d="M287.02 417.00L333.78 417.50" fill="none" stroke="#ff0" stroke-width="1.3" opacity="1"/>
<path d="M333.78 417.50L380.54 416.64" fill="none" stroke="#ff0" stroke-width="1.3" opacity="1"/>
<path d="M380.54 416.64L427.30 411.72" fill="none" stroke="#ff0" stroke-width="1.3" opacity="1"/>






<path d="M193.50 394.94L240.26 415.16" fill="none" stroke="#0f0" stroke-width="1.5" opacity="1" stroke-dasharray="4.2 2.5 1 2.5"/>
<path d="M240.26 415.16L287.02 419.40" fill="none" stroke="#0f0" stroke-width="1.2" opacity="1" stroke-dasharray="4.2 2.5 1 2.5"/>
<path d="M287.02 419.40L333.78 418.23" fill="none" stroke="#0f0" stroke-width="1.2" opacity="1" stroke-dasharray="4.2 2.5 1 2.5"/>
<path d="M333.78 418.23L380.54 418.23" fill="none" stroke="#0f0" stroke-width="1.2" opacity="1" stroke-dasharray="4.2 2.5 1 2.5"/>
<path d="M380.54 418.23L427.30 414.61" fill="none" stroke="#0f0" stroke-width="1.2" opacity="1" stroke-dasharray="4.2 2.5 1 2.5"/>
<path d="M195.70 394.94L191.60 392.44L191.60 397.44Z" fill="none" stroke="#0f0" stroke-width="1.0"/>
<path d="M242.46 415.16L238.36 412.66L238.36 417.66Z" fill="none" stroke="#0f0" stroke-width="1.0"/>
<path d="M289.22 419.40L285.12 416.90L285.12 421.90Z" fill="none" stroke="#0f0" stroke-width="1.0"/>
<path d="M335.98 418.23L331.88 415.73L331.88 420.73Z" fill="none" stroke="#0f0" stroke-width="1.0"/>
<path d="M382.74 418.23L378.64 415.73L378.64 420.73Z" fill="none" stroke="#0f0" stroke-width="1.0"/>
<path d="M429.50 414.61L425.40 412.11L425.40 417.11Z" fill="none" stroke="#0f0" stroke-width="1.0"/>
<path d="M193.50 376.93L240.26 409.32" fill="none" stroke="#f00" stroke-width="0.8" opacity="0.6" stroke-dasharray="5 3.5"/>
<path d="M240.26 409.32L287.02 414.61" fill="none" stroke="#f00" stroke-width="1.1" opacity="1" stroke-dasharray="5 3.5"/>
<path d="M287.02 414.61L333.78 418.23" fill="none" stroke="#f00" stroke-width="1.1" opacity="1" stroke-dasharray="5 3.5"/>
<path d="M333.78 418.23L380.54 418.73" fill="none" stroke="#f00" stroke-width="1.1" opacity="1" stroke-dasharray="5 3.5"/>
<path d="M380.54 418.73L427.30 418.73" fill="none" stroke="#f00" stroke-width="1.1" opacity="1" stroke-dasharray="5 3.5"/>
<path d="M193.50 374.63L195.30 376.93L193.50 379.23L191.70 376.93Z" fill="none" stroke="#f00" stroke-width="0.85" opacity="0.75"/>
<path d="M240.26 407.02L242.06 409.32L240.26 411.62L238.46 409.32Z" fill="none" stroke="#f00" stroke-width="0.85" opacity="0.75"/>
<path d="M287.02 412.31L288.82 414.61L287.02 416.91L285.22 414.61Z" fill="none" stroke="#f00" stroke-width="0.85" opacity="0.75"/>
<path d="M333.78 415.93L335.58 418.23L333.78 420.53L331.98 418.23Z" fill="none" stroke="#f00" stroke-width="0.85" opacity="0.75"/>
<path d="M380.54 416.43L382.34 418.73L380.54 421.03L378.74 418.73Z" fill="none" stroke="#f00" stroke-width="0.85" opacity="0.75"/>
<path d="M427.30 416.43L429.10 418.73L427.30 421.03L425.50 418.73Z" fill="none" stroke="#f00" stroke-width="0.85" opacity="0.75"/>
<path d="M193.50 351.36L240.26 399.06" fill="none" stroke="#00f" stroke-width="0.8" opacity="0.6" stroke-dasharray="4.2 2.5 1 2.5"/>
<path d="M240.26 399.06L287.02 412.21" fill="none" stroke="#00f" stroke-width="1.1" opacity="1" stroke-dasharray="4.2 2.5 1 2.5"/>
<path d="M287.02 412.21L333.78 418.23" fill="none" stroke="#00f" stroke-width="1.1" opacity="1" stroke-dasharray="4.2 2.5 1 2.5"/>
<path d="M333.78 418.23L380.54 419.95" fill="none" stroke="#00f" stroke-width="1.1" opacity="1" stroke-dasharray="4.2 2.5 1 2.5"/>
<path d="M380.54 419.95L427.30 417.50" fill="none" stroke="#00f" stroke-width="1.1" opacity="1" stroke-dasharray="4.2 2.5 1 2.5"/>
<path d="M193.50 349.16L196.00 353.26L191.00 353.26Z" fill="none" stroke="#00f" stroke-width="1.0"/>
<path d="M240.26 396.86L242.76 400.96L237.76 400.96Z" fill="none" stroke="#00f" stroke-width="1.0"/>
<path d="M287.02 410.01L289.52 414.11L284.52 414.11Z" fill="none" stroke="#00f" stroke-width="1.0"/>
<path d="M333.78 416.03L336.28 420.13L331.28 420.13Z" fill="none" stroke="#00f" stroke-width="1.0"/>
<path d="M380.54 417.75L383.04 421.85L378.04 421.85Z" fill="none" stroke="#00f" stroke-width="1.0"/>
<path d="M427.30 415.30L429.80 419.40L424.80 419.40Z" fill="none" stroke="#00f" stroke-width="1.0"/>
<path d="M193.50 322.84L240.26 385.04" fill="none" stroke="#f00" stroke-width="0.8" opacity="0.6" stroke-dasharray="4.2 2.5 1 2.5"/>
<path d="M240.26 385.04L287.02 402.74" fill="none" stroke="#f00" stroke-width="1.1" opacity="1" stroke-dasharray="4.2 2.5 1 2.5"/>
<path d="M287.02 402.74L333.78 411.72" fill="none" stroke="#f00" stroke-width="1.1" opacity="1" stroke-dasharray="4.2 2.5 1 2.5"/>
<path d="M333.78 411.72L380.54 419.40" fill="none" stroke="#f00" stroke-width="1.1" opacity="1" stroke-dasharray="4.2 2.5 1 2.5"/>
<path d="M380.54 419.40L427.30 419.40" fill="none" stroke="#f00" stroke-width="1.1" opacity="1" stroke-dasharray="4.2 2.5 1 2.5"/>
<path d="M193.50 325.04L196.00 320.94L191.00 320.94Z" fill="none" stroke="#f00" stroke-width="1.0"/>
<path d="M240.26 387.24L242.76 383.14L237.76 383.14Z" fill="none" stroke="#f00" stroke-width="1.0"/>
<path d="M287.02 404.94L289.52 400.84L284.52 400.84Z" fill="none" stroke="#f00" stroke-width="1.0"/>
<path d="M333.78 413.92L336.28 409.82L331.28 409.82Z" fill="none" stroke="#f00" stroke-width="1.0"/>
<path d="M380.54 421.60L383.04 417.50L378.04 417.50Z" fill="none" stroke="#f00" stroke-width="1.0"/>
<path d="M427.30 421.60L429.80 417.50L424.80 417.50Z" fill="none" stroke="#f00" stroke-width="1.0"/>
<path d="M193.5 262.6V447" stroke="#000" stroke-width="1.1"/>
<path d="M193.5 262.6H427.3" stroke="#000" stroke-width="1.1"/>
<path d="M427.3 262.6V447" stroke="#000" stroke-width="1.1"/>
<path d="M193.0 447H427.8" stroke="#777" stroke-width="1.9"/>
<path d="M193.50 447v-2.2M193.50 262.6v2.2" stroke="#000" stroke-width="1"/>
<text x="190.23" y="460.60" class="tk" textLength="6.55" lengthAdjust="spacingAndGlyphs">5</text>
<path d="M240.26 447v-2.2M240.26 262.6v2.2" stroke="#000" stroke-width="1"/>
<text x="233.71" y="460.60" class="tk" textLength="13.09" lengthAdjust="spacingAndGlyphs">10</text>
<path d="M287.02 447v-2.2M287.02 262.6v2.2" stroke="#000" stroke-width="1"/>
<text x="280.47" y="460.60" class="tk" textLength="13.09" lengthAdjust="spacingAndGlyphs">15</text>
<path d="M333.78 447v-2.2M333.78 262.6v2.2" stroke="#000" stroke-width="1"/>
<text x="327.23" y="460.60" class="tk" textLength="13.09" lengthAdjust="spacingAndGlyphs">20</text>
<path d="M380.54 447v-2.2M380.54 262.6v2.2" stroke="#000" stroke-width="1"/>
<text x="373.99" y="460.60" class="tk" textLength="13.09" lengthAdjust="spacingAndGlyphs">25</text>
<path d="M427.30 447v-2.2M427.30 262.6v2.2" stroke="#000" stroke-width="1"/>
<text x="414.63" y="456.70" class="tk" textLength="28.14" lengthAdjust="spacingAndGlyphs">clean</text>
<path d="M193.5 447.00h2.4M427.3 447.00h-2.4" stroke="#000" stroke-width="1"/>
<text x="181.65" y="450.95" class="tk" textLength="6.55" lengthAdjust="spacingAndGlyphs">0</text>
<path d="M193.5 416.27h2.4M427.3 416.27h-2.4" stroke="#000" stroke-width="1"/>
<text x="181.65" y="420.22" class="tk" textLength="6.55" lengthAdjust="spacingAndGlyphs">5</text>
<path d="M193.5 385.53h2.4M427.3 385.53h-2.4" stroke="#000" stroke-width="1"/>
<text x="175.11" y="389.48" class="tk" textLength="13.09" lengthAdjust="spacingAndGlyphs">10</text>
<path d="M193.5 354.80h2.4M427.3 354.80h-2.4" stroke="#000" stroke-width="1"/>
<text x="175.11" y="358.75" class="tk" textLength="13.09" lengthAdjust="spacingAndGlyphs">15</text>
<path d="M193.5 324.07h2.4M427.3 324.07h-2.4" stroke="#000" stroke-width="1"/>
<text x="175.11" y="328.02" class="tk" textLength="13.09" lengthAdjust="spacingAndGlyphs">20</text>
<path d="M193.5 293.33h2.4M427.3 293.33h-2.4" stroke="#000" stroke-width="1"/>
<text x="175.11" y="297.28" class="tk" textLength="13.09" lengthAdjust="spacingAndGlyphs">25</text>
<path d="M193.5 262.60h2.4M427.3 262.60h-2.4" stroke="#000" stroke-width="1"/>
<text x="175.11" y="266.55" class="tk" textLength="13.09" lengthAdjust="spacingAndGlyphs">30</text>
<text x="267.9" y="476.1" class="al" textLength="86.9" lengthAdjust="spacingAndGlyphs">Test SNR (db)</text>
<text transform="translate(171.4,354.8) rotate(-90)" x="-21.40" y="0" class="al" style="font-size:14px" textLength="42.8" lengthAdjust="spacingAndGlyphs">WER%</text>
<rect x="344.5" y="265.8" width="79.20" height="65.50" fill="#fff" stroke="none"/>
<path d="M344.5 265.8V331.3" stroke="#000" stroke-width="1.1"/>
<path d="M344.5 265.8H423.7" stroke="#777" stroke-width="1.6"/>
<path d="M423.7 265.8V331.3" stroke="#000" stroke-width="1.1"/>
<path d="M344.0 331.3H424.2" stroke="#000" stroke-width="1.1"/>
<path d="M348.90 271.80H373.80" stroke="#707070" stroke-width="1.7"/>
<rect x="359.60" y="269.60" width="4.4" height="4.4" fill="#555" stroke="#2a2a2a" stroke-width="1.1"/>
<text x="376.80" y="274.55" class="lg" textLength="24.86" lengthAdjust="spacingAndGlyphs">baseline</text>
<path d="M348.90 280.75H373.80" stroke="#00f" stroke-width="1.05" stroke-dasharray="5 3.5"/>
<circle cx="361.80" cy="280.75" r="2.81" fill="none" stroke="#00f" stroke-width="1.1"/>
<text x="376.80" y="283.50" class="lg" textLength="39.87" lengthAdjust="spacingAndGlyphs">TR SNR=5db</text>
<path d="M348.90 289.70H373.80" stroke="#ff0" stroke-width="1.05"/>

<text x="376.80" y="292.45" class="lg" textLength="43.59" lengthAdjust="spacingAndGlyphs">TR SNR=10db</text>
<path d="M348.90 298.65H373.80" stroke="#0f0" stroke-width="1.05" stroke-dasharray="4.2 2.5 1 2.5" stroke-dashoffset="6.7"/>
<path d="M364.55 298.65L359.43 295.53L359.43 301.78Z" fill="none" stroke="#0f0" stroke-width="1.1"/>
<text x="376.80" y="301.40" class="lg" textLength="43.59" lengthAdjust="spacingAndGlyphs">TR SNR=15db</text>
<path d="M348.90 307.60H373.80" stroke="#f00" stroke-width="1.05" stroke-dasharray="5 3.5"/>
<path d="M361.80 304.73L364.05 307.60L361.80 310.48L359.55 307.60Z" fill="none" stroke="#f00" stroke-width="0.935" opacity="0.75"/>
<text x="376.80" y="310.35" class="lg" textLength="43.59" lengthAdjust="spacingAndGlyphs">TR SNR=20db</text>
<path d="M348.90 316.55H373.80" stroke="#00f" stroke-width="1.05" stroke-dasharray="4.2 2.5 1 2.5" stroke-dashoffset="6.7"/>
<path d="M361.80 313.80L364.93 318.93L358.68 318.93Z" fill="none" stroke="#00f" stroke-width="1.1"/>
<text x="376.80" y="319.30" class="lg" textLength="43.59" lengthAdjust="spacingAndGlyphs">TR SNR=25db</text>
<path d="M348.90 325.50H373.80" stroke="#f00" stroke-width="1.05" stroke-dasharray="4.2 2.5 1 2.5" stroke-dashoffset="6.7"/>
<path d="M361.80 328.25L364.93 323.12L358.68 323.12Z" fill="none" stroke="#f00" stroke-width="1.1"/>
<text x="376.80" y="328.25" class="lg" textLength="43.59" lengthAdjust="spacingAndGlyphs">TR SNR=30db</text>
<text x="94.5" y="236.4" class="cp" style="font-size:16px" textLength="18.2" lengthAdjust="spacingAndGlyphs">(a)</text>
<text x="117.3" y="235.3" class="cp" style="font-size:13.2px" textLength="91.4" lengthAdjust="spacingAndGlyphs">White Noise Test</text>
<text x="404.0" y="235.9" class="cp" style="font-size:16px" textLength="19.2" lengthAdjust="spacingAndGlyphs">(b)</text>
<text x="427.3" y="235.9" class="cp" style="font-size:16px" textLength="24.3" lengthAdjust="spacingAndGlyphs">Car</text>
<text x="455.6" y="235.9" class="cp" style="font-size:12.8px" textLength="56" lengthAdjust="spacingAndGlyphs">Noise Test</text>
<text x="237.6" y="494.5" class="cp" style="font-size:16px" textLength="19.2" lengthAdjust="spacingAndGlyphs">(b)</text>
<text x="261.1" y="494.5" class="cp" style="font-size:16px" textLength="60.8" lengthAdjust="spacingAndGlyphs">Cafeteria</text>
<text x="326.6" y="494.5" class="cp" style="font-size:12.8px" textLength="55.6" lengthAdjust="spacingAndGlyphs">Noise Test</text>
</svg>
</body></html>
